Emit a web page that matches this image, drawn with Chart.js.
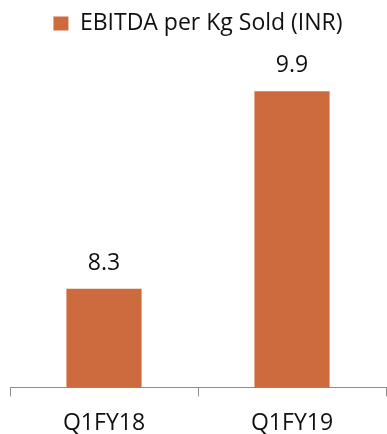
<!doctype html>
<html>
<head>
<meta charset="utf-8">
<script src="https://cdn.jsdelivr.net/npm/chart.js@4.4.4/dist/chart.umd.min.js"></script>
<style>
  html, body { margin: 0; padding: 0; background: #fff; }
  #c { display: block; }
</style>
</head>
<body>
<canvas id="c" width="387" height="434"></canvas>
<script>
const categories = ["Q1FY18", "Q1FY19"];
const ebitdaPerKg = [8.3, 9.9];
const seriesLabel = "EBITDA per Kg Sold (INR)";

const BAR = "#CD6B3E";
const FONT = "'Open Sans', 'Noto Sans', sans-serif";

// value labels above each bar
const valueLabels = {
  id: "valueLabels",
  afterDatasetsDraw(chart) {
    const { ctx } = chart;
    const meta = chart.getDatasetMeta(0);
    ctx.save();
    ctx.fillStyle = "#111";
    ctx.font = "23px " + FONT;
    ctx.textAlign = "center";
    ctx.textBaseline = "alphabetic";
    meta.data.forEach((bar, i) => {
      ctx.fillText(ebitdaPerKg[i].toFixed(1), bar.x, bar.y - 19);
    });
    ctx.restore();
  },
};

// leave room under the legend so the plot starts lower
const legendRoom = {
  id: "legendRoom",
  beforeLayout(chart) {
    const lg = chart.legend;
    if (!lg || lg._roomPatched) return;
    const fit = lg.fit;
    lg.fit = function () { fit.call(this); this.height = 79; };
    lg._roomPatched = true;
  },
};

new Chart(document.getElementById("c"), {
  type: "bar",
  data: {
    labels: categories,
    datasets: [{
      label: seriesLabel,
      data: ebitdaPerKg,
      backgroundColor: BAR,
      borderWidth: 0,
      categoryPercentage: 0.8,
      barPercentage: 0.5,
    }],
  },
  options: {
    responsive: false,
    animation: false,
    // x-axis fit reserves padding twice, so pull the bottom back in
    layout: { padding: { left: 10, right: 1, top: 0, bottom: -16 } },
    scales: {
      y: { display: false, min: 7.5, max: 10 },
      x: {
        border: { display: true, color: "#8c8c8c", width: 1 },
        grid: { offset: true, drawOnChartArea: false, drawTicks: true, tickLength: 9, color: "#8c8c8c" },
        ticks: { color: "#111", font: { family: FONT, size: 23 }, padding: 13 },
      },
    },
    plugins: {
      legend: {
        labels: { color: "#111", font: { family: FONT, size: 23 }, boxWidth: 15, boxHeight: 14, padding: 12 },
      },
      tooltip: { enabled: false },
    },
  },
  plugins: [legendRoom, valueLabels],
});
</script>
</body>
</html>
